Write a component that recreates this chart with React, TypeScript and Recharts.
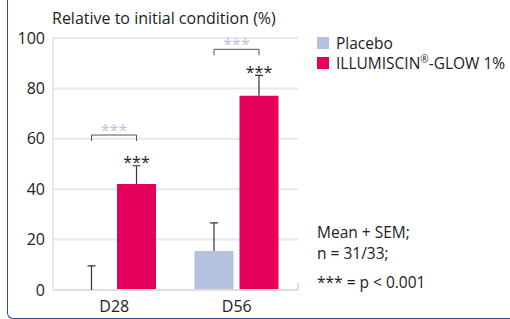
import React from "react";
import { Bar, BarChart, CartesianGrid, LabelList, XAxis, YAxis } from "recharts";

const categories = ["D28", "D56"];
const placebo = [0, 15.5];
const placeboSem = [9.6, 11.1];
const illumiscin = [42.1, 77.1];
const illumiscinSem = [7.2, 8.1];
// height of the placebo-vs-active bracket, in % units
const bracketLevel = [61.5, 95.5];
const yTicks = [0, 20, 40, 60, 80, 100];
const edgeTicks = [0, 1, 2];

const PLACEBO = "#b4c1df";
const ACTIVE = "#e4005c";
const FAINT_STARS = "#b8c4e2";
const BAR_GAP = 6;
const FONT = "'Open Sans', sans-serif";

const data = categories.map((name, i) => ({
  name,
  placebo: placebo[i],
  placeboSem: placeboSem[i],
  illumiscin: illumiscin[i],
  illumiscinSem: illumiscinSem[i],
  bracket: bracketLevel[i]
}));

// SEM whiskers (upper only), stars and brackets, placed off the active bar's geometry
function Annotations(props: any) {
  const { x, y, width, height, value, index } = props;
  const row = data[index];
  const top = Math.min(y, y + height);
  const h = Math.abs(height);
  const base = top + h;
  const ppu = h / value;
  const yAt = (v: number) => base - v * ppu;
  const activeCx = x + width / 2;
  const placeboCx = x - BAR_GAP - width / 2;
  const by = yAt(row.bracket);
  const whisker = (cx: number, v: number, sem: number) => (
    <path
      d={`M${cx},${yAt(v)}V${yAt(v + sem)}M${cx - 4},${yAt(v + sem)}H${cx + 4}`}
      fill="none"
      stroke="#333"
      strokeWidth={1.2}
    />
  );
  return (
    <g fontFamily={FONT}>
      {whisker(placeboCx, row.placebo, row.placeboSem)}
      {whisker(activeCx, row.illumiscin, row.illumiscinSem)}
      <text x={activeCx} y={yAt(value + row.illumiscinSem) + 2.5} textAnchor="middle" fontSize={16} fill="#222">
        ***
      </text>
      <path
        d={`M${placeboCx},${by + 6}V${by}H${activeCx}V${by + 6}`}
        fill="none"
        stroke="#555"
        strokeWidth={1}
      />
      <text x={(placeboCx + activeCx) / 2} y={by + 0.5} textAnchor="middle" fontSize={16} fill={FAINT_STARS}>
        ***
      </text>
    </g>
  );
}

const legend = [
  { label: "Placebo", mark: "", tail: "", color: PLACEBO },
  { label: "ILLUMISCIN", mark: "®", tail: "-GLOW 1%", color: ACTIVE }
];

export default function App() {
  return (
    <div
      style={{
        position: "absolute",
        left: 0,
        top: 0,
        width: 510,
        height: 319,
        overflow: "hidden",
        background: "#fff",
        fontFamily: FONT,
        color: "#222"
      }}
    >
      <div
        style={{
          position: "absolute",
          left: 7,
          top: -20,
          width: 560,
          height: 339,
          borderLeft: "1px solid #2f4f82",
          borderBottom: "1px solid #2f4f82",
          borderBottomLeftRadius: 6,
          boxSizing: "border-box"
        }}
      />
      <div style={{ position: "absolute", left: 52, top: 7, fontSize: 16, whiteSpace: "nowrap" }}>
        Relative to initial condition (%)
      </div>
      <BarChart
        width={510}
        height={319}
        data={data}
        margin={{ top: 38, right: 212, bottom: 5, left: 8 }}
        barGap={BAR_GAP}
        style={{ position: "absolute", left: 0, top: 0 }}
      >
        <CartesianGrid vertical={false} stroke="#e8e8e8" strokeWidth={2} />
        <XAxis
          dataKey="name"
          height={24}
          axisLine={{ stroke: "#dedede", strokeWidth: 2 }}
          tickLine={false}
          tickMargin={5}
          tick={{ fill: "#222", fontSize: 16, fontFamily: FONT }}
        />
        <XAxis
          xAxisId="edges"
          type="number"
          domain={[0, 2]}
          ticks={edgeTicks}
          allowDataOverflow
          mirror
          axisLine={false}
          tickLine={{ stroke: "#dedede", strokeWidth: 2 }}
          tickSize={7}
          tickFormatter={() => ""}
        />
        <YAxis
          width={45}
          domain={[0, 100]}
          ticks={yTicks}
          axisLine={{ stroke: "#e8e8e8", strokeWidth: 2 }}
          tickLine={false}
          tick={{ fill: "#222", fontSize: 16, fontFamily: FONT }}
        />
        <Bar dataKey="placebo" fill={PLACEBO} barSize={39} isAnimationActive={false} />
        <Bar dataKey="illumiscin" fill={ACTIVE} barSize={39} isAnimationActive={false}>
          <LabelList dataKey="illumiscin" content={<Annotations />} />
        </Bar>
      </BarChart>
      <div style={{ position: "absolute", left: 317, top: 33, fontSize: 15.5, lineHeight: "20px" }}>
        {legend.map((l) => (
          <div key={l.label} style={{ display: "flex", alignItems: "center", whiteSpace: "nowrap" }}>
            <span style={{ width: 12, height: 12, background: l.color, marginRight: 7, display: "inline-block" }} />
            {l.label}
            {l.mark && <span style={{ fontSize: 10, position: "relative", top: -4 }}>{l.mark}</span>}
            {l.tail}
          </div>
        ))}
      </div>
      <div style={{ position: "absolute", left: 317, top: 222, fontSize: 15.5, lineHeight: "21px", whiteSpace: "nowrap" }}>
        <div>Mean + SEM;</div>
        <div>n = 31/33;</div>
        <div style={{ marginTop: 8 }}>*** = p &lt; 0.001</div>
      </div>
    </div>
  );
}
